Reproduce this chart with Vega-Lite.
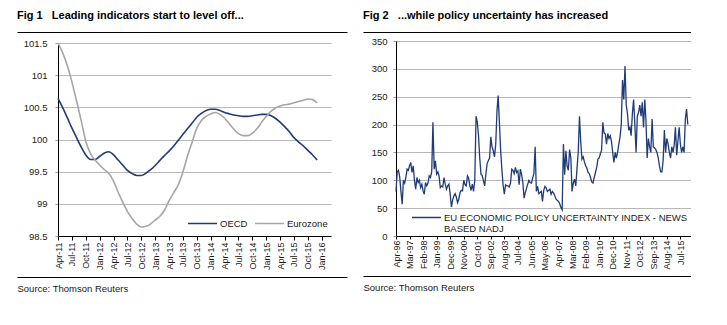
{
  "$schema": "https://vega.github.io/schema/vega-lite/v6.json",
  "background": "white",
  "padding": {"left": 17, "top": 10, "right": 0, "bottom": 0},
  "config": {
    "font": "Liberation Sans",
    "view": {"stroke": null},
    "axis": {"labelFont": "Liberation Sans", "labelColor": "#1a1a1a", "domainColor": "#000", "tickColor": "#000", "gridColor": "#b8b8b8", "gridWidth": 1, "labelFontSize": 9, "titleFont": "Liberation Sans"},
    "legend": {"labelFont": "Liberation Sans", "labelFontSize": 9.5, "labelColor": "#1a1a1a"},
    "title": {"font": "Liberation Sans"}
  },
  "resolve": {"scale": {"color": "independent"}, "legend": {"color": "independent"}},
  "spacing": 16,
  "hconcat": [
    {
      "spacing": 6,
      "vconcat": [
        {
          "width": 330, "height": 1,
          "title": {"text": "Fig 1\u00a0\u00a0\u00a0Leading indicators start to level off...", "anchor": "start", "fontSize": 11, "fontWeight": "bold", "color": "#000", "offset": 10},
          "data": {"values": [{"z": 0}]},
          "mark": {"type": "point", "opacity": 0, "size": 0, "strokeWidth": 0},
          "encoding": {"x": {"field": "z", "type": "quantitative", "axis": {"domainColor": "#000", "domainWidth": 1.2, "ticks": false, "labels": false, "grid": false, "title": null}}}
        },
        {
          "width": 314, "height": 193,
          "data": {"values": [
            {"d":"2011-04","s":"OECD","v":100.64},{"d":"2011-05","s":"OECD","v":100.50},{"d":"2011-06","s":"OECD","v":100.34},{"d":"2011-07","s":"OECD","v":100.18},{"d":"2011-08","s":"OECD","v":100.03},{"d":"2011-09","s":"OECD","v":99.88},{"d":"2011-10","s":"OECD","v":99.76},{"d":"2011-11","s":"OECD","v":99.69},{"d":"2011-12","s":"OECD","v":99.69},
            {"d":"2012-01","s":"OECD","v":99.74},{"d":"2012-02","s":"OECD","v":99.79},{"d":"2012-03","s":"OECD","v":99.81},{"d":"2012-04","s":"OECD","v":99.76},{"d":"2012-05","s":"OECD","v":99.68},{"d":"2012-06","s":"OECD","v":99.60},{"d":"2012-07","s":"OECD","v":99.52},{"d":"2012-08","s":"OECD","v":99.47},{"d":"2012-09","s":"OECD","v":99.44},{"d":"2012-10","s":"OECD","v":99.44},{"d":"2012-11","s":"OECD","v":99.48},{"d":"2012-12","s":"OECD","v":99.53},
            {"d":"2013-01","s":"OECD","v":99.60},{"d":"2013-02","s":"OECD","v":99.68},{"d":"2013-03","s":"OECD","v":99.75},{"d":"2013-04","s":"OECD","v":99.82},{"d":"2013-05","s":"OECD","v":99.90},{"d":"2013-06","s":"OECD","v":99.99},{"d":"2013-07","s":"OECD","v":100.08},{"d":"2013-08","s":"OECD","v":100.17},{"d":"2013-09","s":"OECD","v":100.26},{"d":"2013-10","s":"OECD","v":100.35},{"d":"2013-11","s":"OECD","v":100.41},{"d":"2013-12","s":"OECD","v":100.45},
            {"d":"2014-01","s":"OECD","v":100.47},{"d":"2014-02","s":"OECD","v":100.47},{"d":"2014-03","s":"OECD","v":100.45},{"d":"2014-04","s":"OECD","v":100.42},{"d":"2014-05","s":"OECD","v":100.40},{"d":"2014-06","s":"OECD","v":100.38},{"d":"2014-07","s":"OECD","v":100.37},{"d":"2014-08","s":"OECD","v":100.36},{"d":"2014-09","s":"OECD","v":100.36},{"d":"2014-10","s":"OECD","v":100.37},{"d":"2014-11","s":"OECD","v":100.38},{"d":"2014-12","s":"OECD","v":100.39},
            {"d":"2015-01","s":"OECD","v":100.39},{"d":"2015-02","s":"OECD","v":100.37},{"d":"2015-03","s":"OECD","v":100.33},{"d":"2015-04","s":"OECD","v":100.27},{"d":"2015-05","s":"OECD","v":100.20},{"d":"2015-06","s":"OECD","v":100.12},{"d":"2015-07","s":"OECD","v":100.03},{"d":"2015-08","s":"OECD","v":99.96},{"d":"2015-09","s":"OECD","v":99.90},{"d":"2015-10","s":"OECD","v":99.83},{"d":"2015-11","s":"OECD","v":99.76},{"d":"2015-12","s":"OECD","v":99.68},
            {"d":"2011-04","s":"Eurozone","v":101.50},{"d":"2011-05","s":"Eurozone","v":101.35},{"d":"2011-06","s":"Eurozone","v":101.15},{"d":"2011-07","s":"Eurozone","v":100.90},{"d":"2011-08","s":"Eurozone","v":100.60},{"d":"2011-09","s":"Eurozone","v":100.29},{"d":"2011-10","s":"Eurozone","v":99.97},{"d":"2011-11","s":"Eurozone","v":99.78},{"d":"2011-12","s":"Eurozone","v":99.68},
            {"d":"2012-01","s":"Eurozone","v":99.60},{"d":"2012-02","s":"Eurozone","v":99.53},{"d":"2012-03","s":"Eurozone","v":99.47},{"d":"2012-04","s":"Eurozone","v":99.35},{"d":"2012-05","s":"Eurozone","v":99.18},{"d":"2012-06","s":"Eurozone","v":99.02},{"d":"2012-07","s":"Eurozone","v":98.88},{"d":"2012-08","s":"Eurozone","v":98.77},{"d":"2012-09","s":"Eurozone","v":98.68},{"d":"2012-10","s":"Eurozone","v":98.64},{"d":"2012-11","s":"Eurozone","v":98.65},{"d":"2012-12","s":"Eurozone","v":98.69},
            {"d":"2013-01","s":"Eurozone","v":98.75},{"d":"2013-02","s":"Eurozone","v":98.81},{"d":"2013-03","s":"Eurozone","v":98.90},{"d":"2013-04","s":"Eurozone","v":99.05},{"d":"2013-05","s":"Eurozone","v":99.17},{"d":"2013-06","s":"Eurozone","v":99.30},{"d":"2013-07","s":"Eurozone","v":99.50},{"d":"2013-08","s":"Eurozone","v":99.75},{"d":"2013-09","s":"Eurozone","v":99.97},{"d":"2013-10","s":"Eurozone","v":100.18},{"d":"2013-11","s":"Eurozone","v":100.30},{"d":"2013-12","s":"Eurozone","v":100.36},
            {"d":"2014-01","s":"Eurozone","v":100.40},{"d":"2014-02","s":"Eurozone","v":100.42},{"d":"2014-03","s":"Eurozone","v":100.39},{"d":"2014-04","s":"Eurozone","v":100.33},{"d":"2014-05","s":"Eurozone","v":100.25},{"d":"2014-06","s":"Eurozone","v":100.16},{"d":"2014-07","s":"Eurozone","v":100.09},{"d":"2014-08","s":"Eurozone","v":100.06},{"d":"2014-09","s":"Eurozone","v":100.06},{"d":"2014-10","s":"Eurozone","v":100.10},{"d":"2014-11","s":"Eurozone","v":100.17},{"d":"2014-12","s":"Eurozone","v":100.27},
            {"d":"2015-01","s":"Eurozone","v":100.36},{"d":"2015-02","s":"Eurozone","v":100.44},{"d":"2015-03","s":"Eurozone","v":100.49},{"d":"2015-04","s":"Eurozone","v":100.52},{"d":"2015-05","s":"Eurozone","v":100.54},{"d":"2015-06","s":"Eurozone","v":100.55},{"d":"2015-07","s":"Eurozone","v":100.57},{"d":"2015-08","s":"Eurozone","v":100.59},{"d":"2015-09","s":"Eurozone","v":100.61},{"d":"2015-10","s":"Eurozone","v":100.63},{"d":"2015-11","s":"Eurozone","v":100.62},{"d":"2015-12","s":"Eurozone","v":100.57}
          ]},
          "mark": {"type": "line", "interpolate": "monotone", "strokeWidth": 1.6},
          "encoding": {
            "x": {"field": "d", "type": "temporal",
              "scale": {"type": "utc", "range": [41, 314], "domain": [{"year":2011,"month":4,"date":1,"utc":true},{"year":2016,"month":3,"date":1,"utc":true}]},
              "axis": {"title": null, "grid": false, "format": "%b-%y", "labelAngle": -90, "tickSize": 4, "labelPadding": 2,
                "values": [{"year":2011,"month":4,"date":1,"utc":true},{"year":2011,"month":7,"date":1,"utc":true},{"year":2011,"month":10,"date":1,"utc":true},{"year":2012,"month":1,"date":1,"utc":true},{"year":2012,"month":4,"date":1,"utc":true},{"year":2012,"month":7,"date":1,"utc":true},{"year":2012,"month":10,"date":1,"utc":true},{"year":2013,"month":1,"date":1,"utc":true},{"year":2013,"month":4,"date":1,"utc":true},{"year":2013,"month":7,"date":1,"utc":true},{"year":2013,"month":10,"date":1,"utc":true},{"year":2014,"month":1,"date":1,"utc":true},{"year":2014,"month":4,"date":1,"utc":true},{"year":2014,"month":7,"date":1,"utc":true},{"year":2014,"month":10,"date":1,"utc":true},{"year":2015,"month":1,"date":1,"utc":true},{"year":2015,"month":4,"date":1,"utc":true},{"year":2015,"month":7,"date":1,"utc":true},{"year":2015,"month":10,"date":1,"utc":true},{"year":2016,"month":1,"date":1,"utc":true}]}},
            "y": {"field": "v", "type": "quantitative", "scale": {"domain": [98.5, 101.5], "nice": false, "zero": false},
              "axis": {"title": null, "values": [98.5, 99, 99.5, 100, 100.5, 101, 101.5], "format": "~g", "labelFontSize": 9.5, "tickSize": 3, "tickColor": "#999", "labelPadding": 8, "offset": -41}},
            "color": {"field": "s", "type": "nominal", "scale": {"domain": ["OECD", "Eurozone"], "range": ["#1f3c78", "#a6a6a6"]},
              "legend": {"title": null, "orient": "none", "legendX": 170, "legendY": 177, "direction": "horizontal", "symbolType": "stroke", "symbolSize": 841, "symbolStrokeWidth": 1.5, "labelOffset": 2, "columnPadding": 4}}
          }
        },
        {
          "width": 330, "height": 1,
          "data": {"values": [{"z": 0}]},
          "mark": {"type": "point", "opacity": 0, "size": 0, "strokeWidth": 0},
          "encoding": {"x": {"field": "z", "type": "quantitative", "axis": {"domainColor": "#000", "domainWidth": 1.2, "ticks": false, "labels": false, "grid": false, "title": "Source: Thomson Reuters", "titleAnchor": "start", "titleFontWeight": "normal", "titleFontSize": 9.5, "titlePadding": 6, "titleColor": "#1a1a1a"}}}
        }
      ]
    },
    {
      "spacing": 4,
      "vconcat": [
        {
          "width": 328, "height": 1,
          "title": {"text": "Fig 2\u00a0\u00a0\u00a0...while policy uncertainty has increased", "anchor": "start", "fontSize": 11, "fontWeight": "bold", "color": "#000", "offset": 10},
          "data": {"values": [{"z": 0}]},
          "mark": {"type": "point", "opacity": 0, "size": 0, "strokeWidth": 0},
          "encoding": {"x": {"field": "z", "type": "quantitative", "axis": {"domainColor": "#000", "domainWidth": 1.2, "ticks": false, "labels": false, "grid": false, "title": null}}}
        },
        {
          "width": 328, "height": 195,
          "data": {"values": [
            {"d":"1996-04","v":80},{"d":"1996-05","v":115},{"d":"1996-06","v":118},{"d":"1996-07","v":106},{"d":"1996-08","v":80},{"d":"1996-09","v":57},{"d":"1996-10","v":100},{"d":"1996-11","v":95},{"d":"1996-12","v":105},
            {"d":"1997-01","v":120},{"d":"1997-02","v":118},{"d":"1997-03","v":126},{"d":"1997-04","v":132},{"d":"1997-05","v":114},{"d":"1997-06","v":126},{"d":"1997-07","v":100},{"d":"1997-08","v":84},{"d":"1997-09","v":105},{"d":"1997-10","v":96},{"d":"1997-11","v":100},{"d":"1997-12","v":87},
            {"d":"1998-01","v":93},{"d":"1998-02","v":80},{"d":"1998-03","v":75},{"d":"1998-04","v":96},{"d":"1998-05","v":90},{"d":"1998-06","v":95},{"d":"1998-07","v":108},{"d":"1998-08","v":105},{"d":"1998-09","v":115},{"d":"1998-10","v":204},{"d":"1998-11","v":120},{"d":"1998-12","v":135},
            {"d":"1999-01","v":111},{"d":"1999-02","v":115},{"d":"1999-03","v":108},{"d":"1999-04","v":87},{"d":"1999-05","v":90},{"d":"1999-06","v":88},{"d":"1999-07","v":105},{"d":"1999-08","v":93},{"d":"1999-09","v":84},{"d":"1999-10","v":90},{"d":"1999-11","v":93},{"d":"1999-12","v":75},
            {"d":"2000-01","v":52},{"d":"2000-02","v":65},{"d":"2000-03","v":72},{"d":"2000-04","v":76},{"d":"2000-05","v":70},{"d":"2000-06","v":60},{"d":"2000-07","v":66},{"d":"2000-08","v":78},{"d":"2000-09","v":82},{"d":"2000-10","v":81},{"d":"2000-11","v":100},{"d":"2000-12","v":92},
            {"d":"2001-01","v":90},{"d":"2001-02","v":108},{"d":"2001-03","v":104},{"d":"2001-04","v":90},{"d":"2001-05","v":82},{"d":"2001-06","v":93},{"d":"2001-07","v":80},{"d":"2001-08","v":100},{"d":"2001-09","v":215},{"d":"2001-10","v":205},{"d":"2001-11","v":180},{"d":"2001-12","v":140},
            {"d":"2002-01","v":111},{"d":"2002-02","v":108},{"d":"2002-03","v":100},{"d":"2002-04","v":90},{"d":"2002-05","v":110},{"d":"2002-06","v":130},{"d":"2002-07","v":135},{"d":"2002-08","v":140},{"d":"2002-09","v":178},{"d":"2002-10","v":160},{"d":"2002-11","v":153},{"d":"2002-12","v":142},
            {"d":"2003-01","v":165},{"d":"2003-02","v":225},{"d":"2003-03","v":252},{"d":"2003-04","v":205},{"d":"2003-05","v":155},{"d":"2003-06","v":120},{"d":"2003-07","v":92},{"d":"2003-08","v":75},{"d":"2003-09","v":92},{"d":"2003-10","v":90},{"d":"2003-11","v":90},{"d":"2003-12","v":88},
            {"d":"2004-01","v":95},{"d":"2004-02","v":120},{"d":"2004-03","v":118},{"d":"2004-04","v":112},{"d":"2004-05","v":123},{"d":"2004-06","v":114},{"d":"2004-07","v":117},{"d":"2004-08","v":92},{"d":"2004-09","v":120},{"d":"2004-10","v":110},{"d":"2004-11","v":96},{"d":"2004-12","v":68},
            {"d":"2005-01","v":78},{"d":"2005-02","v":86},{"d":"2005-03","v":93},{"d":"2005-04","v":100},{"d":"2005-05","v":96},{"d":"2005-06","v":95},{"d":"2005-07","v":104},{"d":"2005-08","v":112},{"d":"2005-09","v":160},{"d":"2005-10","v":80},{"d":"2005-11","v":89},{"d":"2005-12","v":76},
            {"d":"2006-01","v":78},{"d":"2006-02","v":80},{"d":"2006-03","v":62},{"d":"2006-04","v":82},{"d":"2006-05","v":89},{"d":"2006-06","v":86},{"d":"2006-07","v":80},{"d":"2006-08","v":82},{"d":"2006-09","v":84},{"d":"2006-10","v":75},{"d":"2006-11","v":80},{"d":"2006-12","v":77},
            {"d":"2007-01","v":72},{"d":"2007-02","v":66},{"d":"2007-03","v":64},{"d":"2007-04","v":62},{"d":"2007-05","v":58},{"d":"2007-06","v":51},{"d":"2007-07","v":47},{"d":"2007-08","v":165},{"d":"2007-09","v":110},{"d":"2007-10","v":153},{"d":"2007-11","v":125},{"d":"2007-12","v":118},
            {"d":"2008-01","v":155},{"d":"2008-02","v":140},{"d":"2008-03","v":80},{"d":"2008-04","v":95},{"d":"2008-05","v":102},{"d":"2008-06","v":90},{"d":"2008-07","v":120},{"d":"2008-08","v":150},{"d":"2008-09","v":215},{"d":"2008-10","v":170},{"d":"2008-11","v":138},{"d":"2008-12","v":142},
            {"d":"2009-01","v":133},{"d":"2009-02","v":126},{"d":"2009-03","v":122},{"d":"2009-04","v":114},{"d":"2009-05","v":112},{"d":"2009-06","v":105},{"d":"2009-07","v":97},{"d":"2009-08","v":95},{"d":"2009-09","v":105},{"d":"2009-10","v":114},{"d":"2009-11","v":123},{"d":"2009-12","v":138},
            {"d":"2010-01","v":140},{"d":"2010-02","v":148},{"d":"2010-03","v":154},{"d":"2010-04","v":204},{"d":"2010-05","v":185},{"d":"2010-06","v":183},{"d":"2010-07","v":165},{"d":"2010-08","v":184},{"d":"2010-09","v":175},{"d":"2010-10","v":180},{"d":"2010-11","v":170},{"d":"2010-12","v":150},
            {"d":"2011-01","v":132},{"d":"2011-02","v":150},{"d":"2011-03","v":140},{"d":"2011-04","v":150},{"d":"2011-05","v":165},{"d":"2011-06","v":178},{"d":"2011-07","v":200},{"d":"2011-08","v":280},{"d":"2011-09","v":245},{"d":"2011-10","v":305},{"d":"2011-11","v":235},{"d":"2011-12","v":220},
            {"d":"2012-01","v":190},{"d":"2012-02","v":195},{"d":"2012-03","v":180},{"d":"2012-04","v":220},{"d":"2012-05","v":245},{"d":"2012-06","v":200},{"d":"2012-07","v":150},{"d":"2012-08","v":215},{"d":"2012-09","v":222},{"d":"2012-10","v":235},{"d":"2012-11","v":215},{"d":"2012-12","v":240},
            {"d":"2013-01","v":195},{"d":"2013-02","v":245},{"d":"2013-03","v":210},{"d":"2013-04","v":140},{"d":"2013-05","v":175},{"d":"2013-06","v":160},{"d":"2013-07","v":150},{"d":"2013-08","v":210},{"d":"2013-09","v":160},{"d":"2013-10","v":158},{"d":"2013-11","v":155},{"d":"2013-12","v":150},
            {"d":"2014-01","v":140},{"d":"2014-02","v":125},{"d":"2014-03","v":115},{"d":"2014-04","v":115},{"d":"2014-05","v":135},{"d":"2014-06","v":190},{"d":"2014-07","v":150},{"d":"2014-08","v":175},{"d":"2014-09","v":165},{"d":"2014-10","v":150},{"d":"2014-11","v":140},{"d":"2014-12","v":160},
            {"d":"2015-01","v":150},{"d":"2015-02","v":165},{"d":"2015-03","v":195},{"d":"2015-04","v":145},{"d":"2015-05","v":170},{"d":"2015-06","v":195},{"d":"2015-07","v":165},{"d":"2015-08","v":150},{"d":"2015-09","v":160},{"d":"2015-10","v":150},{"d":"2015-11","v":210},{"d":"2015-12","v":228},
            {"d":"2016-01","v":200}
          ]},
          "mark": {"type": "line", "strokeWidth": 1.3},
          "encoding": {
            "x": {"field": "d", "type": "temporal",
              "scale": {"type": "utc", "range": [33, 328], "domain": [{"year":1996,"month":4,"date":1,"utc":true},{"year":2016,"month":3,"date":20,"utc":true}]},
              "axis": {"title": null, "grid": false, "format": "%b-%y", "labelAngle": -90, "tickSize": 3, "labelPadding": 1,
                "values": [{"year":1996,"month":4,"date":1,"utc":true},{"year":1997,"month":3,"date":1,"utc":true},{"year":1998,"month":2,"date":1,"utc":true},{"year":1999,"month":1,"date":1,"utc":true},{"year":1999,"month":12,"date":1,"utc":true},{"year":2000,"month":11,"date":1,"utc":true},{"year":2001,"month":10,"date":1,"utc":true},{"year":2002,"month":9,"date":1,"utc":true},{"year":2003,"month":8,"date":1,"utc":true},{"year":2004,"month":7,"date":1,"utc":true},{"year":2005,"month":6,"date":1,"utc":true},{"year":2006,"month":5,"date":1,"utc":true},{"year":2007,"month":4,"date":1,"utc":true},{"year":2008,"month":3,"date":1,"utc":true},{"year":2009,"month":2,"date":1,"utc":true},{"year":2010,"month":1,"date":1,"utc":true},{"year":2010,"month":12,"date":1,"utc":true},{"year":2011,"month":11,"date":1,"utc":true},{"year":2012,"month":10,"date":1,"utc":true},{"year":2013,"month":9,"date":1,"utc":true},{"year":2014,"month":8,"date":1,"utc":true},{"year":2015,"month":7,"date":1,"utc":true}]}},
            "y": {"field": "v", "type": "quantitative", "scale": {"domain": [0, 350], "nice": false},
              "axis": {"title": null, "values": [0, 50, 100, 150, 200, 250, 300, 350], "labelFontSize": 9.5, "tickSize": 3, "tickColor": "#999", "labelPadding": 6, "offset": -33}},
            "color": {"datum": "EU ECONOMIC POLICY UNCERTAINTY INDEX - NEWS BASED NADJ", "type": "nominal", "scale": {"range": ["#1f3c78"]},
              "legend": {"title": null, "orient": "none", "legendX": 48, "legendY": 171, "symbolType": "stroke", "symbolSize": 841, "symbolStrokeWidth": 1.5, "labelOffset": 2, "labelLimit": 400,
                "labelExpr": "[substring(datum.label, 0, 43), substring(datum.label, 44)]"}}
          }
        },
        {
          "width": 328, "height": 1,
          "data": {"values": [{"z": 0}]},
          "mark": {"type": "point", "opacity": 0, "size": 0, "strokeWidth": 0},
          "encoding": {"x": {"field": "z", "type": "quantitative", "axis": {"domainColor": "#000", "domainWidth": 1.2, "ticks": false, "labels": false, "grid": false, "title": "Source: Thomson Reuters", "titleAnchor": "start", "titleFontWeight": "normal", "titleFontSize": 9.5, "titlePadding": 6, "titleColor": "#1a1a1a"}}}
        }
      ]
    }
  ]
}
